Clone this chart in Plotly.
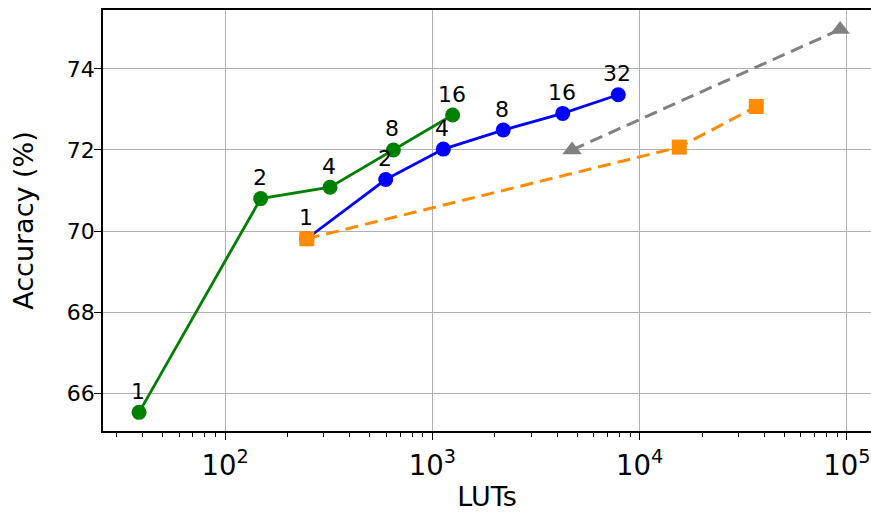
import math
import plotly.graph_objects as go

# Data
green_x = [38.5, 148.6, 321, 649, 1253]
green_y = [65.53, 70.80, 71.08, 72.0, 72.86]
green_lbl = ["1", "2", "4", "8", "16"]

blue_x = [248, 596, 1130, 2198, 4256, 7887]
blue_y = [69.81, 71.27, 72.02, 72.49, 72.9, 73.36]
blue_lbl = ["1", "2", "4", "8", "16", "32"]

orange_x = [248, 15530, 36520]
orange_y = [69.81, 72.07, 73.07]

gray_x = [4722, 92700]
gray_y = [72.0, 74.97]

FONT = "DejaVu Sans"

fig = go.Figure()
fig.add_trace(go.Scatter(x=blue_x, y=blue_y, mode="lines+markers",
                         line=dict(color="#0000ff", width=2.8),
                         marker=dict(symbol="circle", size=15, color="#0000ff"),
                         showlegend=False))
fig.add_trace(go.Scatter(x=green_x, y=green_y, mode="lines+markers",
                         line=dict(color="#008000", width=2.8),
                         marker=dict(symbol="circle", size=15, color="#008000"),
                         showlegend=False))
fig.add_trace(go.Scatter(x=orange_x, y=orange_y, mode="lines+markers",
                         line=dict(color="#ff8c00", width=3, dash="13px,7px"),
                         marker=dict(symbol="square", size=15, color="#ff8c00"),
                         showlegend=False))
fig.add_trace(go.Scatter(x=gray_x, y=gray_y, mode="lines+markers",
                         line=dict(color="#808080", width=3, dash="13px,7px"),
                         marker=dict(symbol="triangle-up", size=17, color="#808080"),
                         showlegend=False))

annotations = []
for xs, ys, ls in [(green_x, green_y, green_lbl), (blue_x, blue_y, blue_lbl)]:
    for x, y, l in zip(xs, ys, ls):
        annotations.append(dict(x=math.log10(x), y=y, text=l, showarrow=False,
                                yshift=21, xshift=-1,
                                font=dict(family=FONT, size=22, color="black")))

fig.update_layout(
    width=871, height=512,
    margin=dict(l=103, r=0, t=10, b=81),
    paper_bgcolor="white", plot_bgcolor="white",
    font=dict(family=FONT, size=22, color="black"),
    annotations=annotations,
)
fig.update_xaxes(type="log", range=[1.4115, 5.116], dtick=1, exponentformat="power",
                 automargin=False,
                 showgrid=True, gridcolor="#b0b0b0", gridwidth=1.3,
                 showline=True, linecolor="black", linewidth=1.5, mirror=True,
                 ticks="outside", ticklen=7, tickwidth=1.3, tickcolor="black",
                 ticklabelstandoff=3,
                 minor=dict(ticks="outside", ticklen=4, tickwidth=1, tickcolor="black",
                            dtick="D1", showgrid=False),
                 zeroline=False,
                 title=dict(text="LUTs", font=dict(family=FONT, size=27), standoff=9))
fig.update_yaxes(range=[65.07, 75.45], dtick=2, tick0=66,
                 automargin=False,
                 showgrid=True, gridcolor="#b0b0b0", gridwidth=1.3,
                 showline=True, linecolor="black", linewidth=1.5, mirror=False,
                 ticks="outside", ticklen=7, tickwidth=1.3, tickcolor="black",
                 ticklabelstandoff=-5,
                 zeroline=False,
                 title=dict(text="Accuracy (%)", font=dict(family=FONT, size=27), standoff=25))

fig.write_html("out.html",
               config={"displayModeBar": False},
               post_script="document.body.style.margin='0';document.body.style.overflow='hidden';")
